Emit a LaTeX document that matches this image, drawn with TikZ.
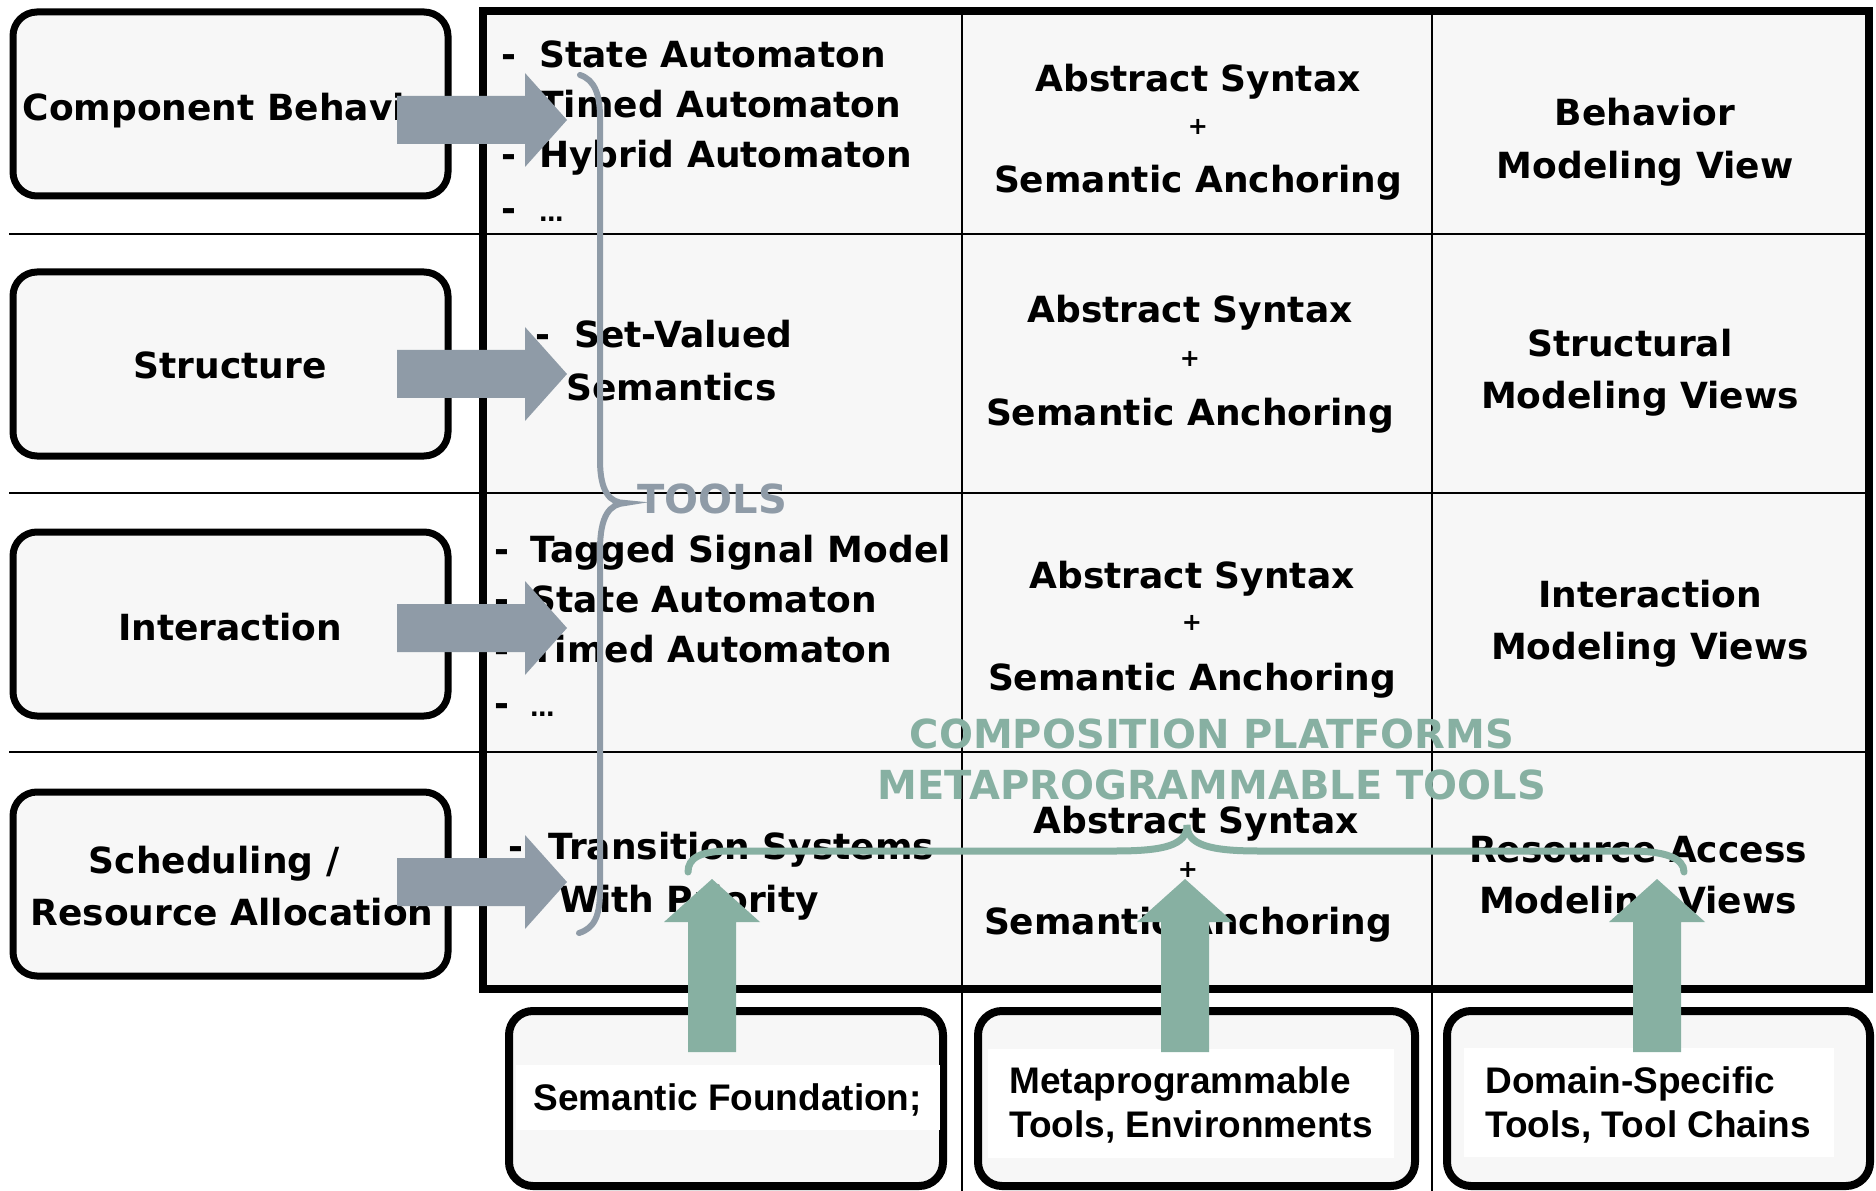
\documentclass[tikz,border=0pt]{standalone}
\usepackage{fontspec}
\setmainfont{DejaVu Sans}
\newfontfamily\labelfont{Liberation Sans}
\definecolor{cellfill}{HTML}{F7F7F7}
\definecolor{toolgray}{HTML}{8F9BA7}
\definecolor{platgreen}{HTML}{87B0A2}

\tikzset{
  cell/.style={font=\fontsize{18bp}{22bp}\selectfont\bfseries, inner sep=0pt, anchor=base},
  item/.style={cell, anchor=base west},
  plussign/.style={font=\fontsize{12bp}{14bp}\selectfont\bfseries, inner sep=0pt, anchor=center},
  footlabel/.style={font=\labelfont\fontsize{18.5bp}{22bp}\selectfont\bfseries, inner sep=0pt, anchor=base west},
  hint/.style={font=\fontsize{20bp}{24bp}\selectfont\bfseries, inner sep=0pt, anchor=base},
  aspectbox/.style={draw=black, line width=3.5bp, fill=cellfill, rounded corners=12bp},
  footbox/.style={draw=black, line width=4bp, fill=cellfill, rounded corners=12bp},
  gridline/.style={draw=black, line width=1bp},
  pics/rblock/.style={code={
    \fill[toolgray] (-170,-24) -- (-42,-24) -- (-42,-47) -- (0,0)
      -- (-42,47) -- (-42,24) -- (-170,24) -- cycle;}},
  pics/ublock/.style={code={
    \fill[platgreen] (0,0) -- (48,43) -- (24,43) -- (24,173)
      -- (-24,173) -- (-24,43) -- (-48,43) -- cycle;}},
}

\begin{document}
\begin{tikzpicture}[x=0.5bp,y=-0.5bp]
\useasboundingbox (0,0) rectangle (1876,1191);
\fill[white] (0,0) rectangle (1876,1191);
\clip (0,0) rectangle (1876,1191);

% matrix of formalisms
\fill[cellfill] (483,11) rectangle (1869,989);
\foreach \yy in {234,493,752} \draw[gridline] (9,\yy) -- (1869,\yy);
\foreach \xx in {962,1432} \draw[gridline] (\xx,11) -- (\xx,1191);
\draw[line width=4bp] (483,11) rectangle (1869,989);

% aspect boxes on the left
\draw[aspectbox] (13,12) rectangle (448,196);
\draw[aspectbox] (13,272) rectangle (448,456);
\draw[aspectbox] (13,532) rectangle (448,716);
\draw[aspectbox] (13,792) rectangle (448,976);

% foundation boxes at the bottom
\draw[footbox] (509,1011) rectangle (943,1186);
\draw[footbox] (978,1011) rectangle (1415,1186);
\draw[footbox] (1447,1011) rectangle (1870,1186);
\fill[white] (516,1065) rectangle (940,1130);
\fill[white] (988,1049) rectangle (1394,1158);
\fill[white] (1464,1048) rectangle (1834,1157);

% aspect names
\node[cell] (cb) at (235,121) {Component Behavior};
\node[cell] (st) at (230,379) {Structure};
\node[cell] (in) at (230,640) {Interaction};
\node[cell] (sc1) at (214,873) {Scheduling /};
\node[cell] (sc2) at (232,925) {Resource Allocation};

% formalisms
\node[item] (f11) at (501,68) {\makebox[19bp][l]{-}State Automaton};
\node[item] (f12) at (501,118) {\makebox[19bp][l]{-}Timed Automaton};
\node[item] (f13) at (501,168) {\makebox[19bp][l]{-}Hybrid Automaton};
\node[item] (f14) at (501,222) {\makebox[19bp][l]{-}{\fontsize{12bp}{14bp}\selectfont\ldots}};
\node[item] (f21) at (535,348) {\makebox[19.5bp][l]{-}Set-Valued};
\node[item] (f22) at (566,401) {Semantics};
\node[item] (f31) at (494,562) {\makebox[18bp][l]{-}Tagged Signal Model};
\node[item] (f32) at (494,612) {\makebox[18bp][l]{-}State Automaton};
\node[item] (f33) at (494,662) {\makebox[18bp][l]{-}Timed Automaton};
\node[item] (f34) at (494,716) {\makebox[18bp][l]{-}{\fontsize{12bp}{14bp}\selectfont\ldots}};
\node[item] (f41) at (508,859) {\makebox[20bp][l]{-}Transition Systems};
\node[item] (f42) at (559,912) {With Priority};

% abstract syntax column
\node[cell] (a11) at (1198,92) {Abstract Syntax};
\node[plussign] (a12) at (1198,127) {+};
\node[cell] (a13) at (1198,193) {Semantic Anchoring};
\node[cell] (a21) at (1190,323) {Abstract Syntax};
\node[plussign] (a22) at (1190,359) {+};
\node[cell] (a23) at (1190,426) {Semantic Anchoring};
\node[cell] (a31) at (1192,588) {Abstract Syntax};
\node[plussign] (a32) at (1192,623) {+};
\node[cell] (a33) at (1192,690) {Semantic Anchoring};
\node[cell] (a41) at (1196,833) {Abstract Syntax};
\node[plussign] (a42) at (1188,870) {+};
\node[cell] (a43) at (1188,934) {Semantic Anchoring};

% modeling views column
\node[cell] (v11) at (1645,126) {Behavior};
\node[cell] (v12) at (1645,179) {Modeling View};
\node[cell] (v21) at (1630,357) {Structural};
\node[cell] (v22) at (1640,409) {Modeling Views};
\node[cell] (v31) at (1650,607) {Interaction};
\node[cell] (v32) at (1650,659) {Modeling Views};
\node[cell] (v41) at (1638,862) {Resource Access};
\node[cell] (v42) at (1638,913) {Modeling Views};

% foundation labels
\node[footlabel] (sf) at (533,1110) {Semantic Foundation;};
\node[footlabel] (mt1) at (1009,1093) {Metaprogrammable};
\node[footlabel] (mt2) at (1009,1137) {Tools, Environments};
\node[footlabel] (ds1) at (1485,1093) {Domain-Specific};
\node[footlabel] (ds2) at (1485,1137) {Tools, Tool Chains};

% tools brace
\draw[toolgray, line width=3bp, line cap=round]
  (580,75) .. controls (595,80) and (600,95) .. (600,118)
  -- (600,460) .. controls (600,492) and (610,503) .. (625,503)
  .. controls (610,504) and (600,515) .. (600,550)
  -- (600,890) .. controls (600,915) and (595,928) .. (579,933);
\node[hint, anchor=base west, text=toolgray] (tools) at (637,513) {TOOLS};

% aspect arrows
\pic at (567,120) {rblock};
\pic at (567,374) {rblock};
\pic at (567,628) {rblock};
\pic at (567,882) {rblock};

% composition platform brace
\draw[platgreen, line width=3.5bp, line cap=round]
  (688,872) .. controls (688,858) and (700,851) .. (730,851)
  -- (1115,851) .. controls (1165,851) and (1187,845) .. (1187,825)
  .. controls (1187,845) and (1210,851) .. (1259,851)
  -- (1630,851) .. controls (1665,851) and (1684,858) .. (1684,872);
\node[hint, text=platgreen] (cp) at (1212,748) {COMPOSITION PLATFORMS};
\node[hint, text=platgreen] (mp) at (1212,799) {METAPROGRAMMABLE TOOLS};

% foundation arrows
\pic at (712,879) {ublock};
\pic at (1185,879) {ublock};
\pic at (1657,879) {ublock};
\end{tikzpicture}
\end{document}
